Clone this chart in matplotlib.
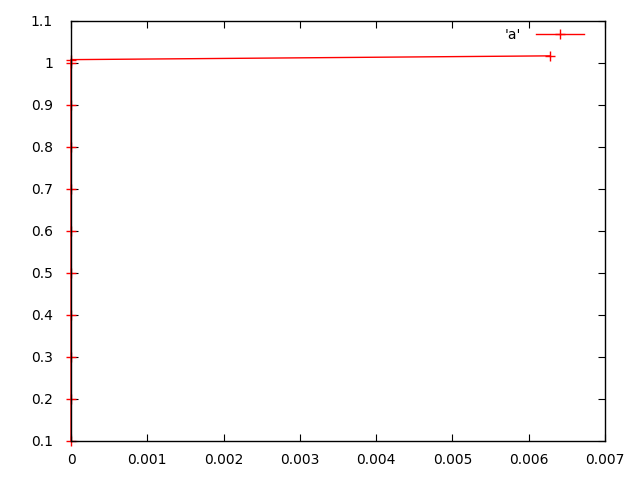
import matplotlib
matplotlib.use("Agg")
import matplotlib.pyplot as plt

# data
x_vals = [0, 0, 0, 0, 0, 0, 0, 0, 0, 0, 0, 0.00628]
y_vals = [0.1, 0.2, 0.3, 0.4, 0.5, 0.6, 0.7, 0.8, 0.9, 1.0, 1.008, 1.017]
series_name = "'a'"
x_ticks = [0, 0.001, 0.002, 0.003, 0.004, 0.005, 0.006, 0.007]
x_tick_labels = ["0", "0.001", "0.002", "0.003", "0.004", "0.005", "0.006", "0.007"]
y_ticks = [0.1, 0.2, 0.3, 0.4, 0.5, 0.6, 0.7, 0.8, 0.9, 1.0, 1.1]
y_tick_labels = ["0.1", "0.2", "0.3", "0.4", "0.5", "0.6", "0.7", "0.8", "0.9", "1", "1.1"]

plt.rcParams['font.family'] = ['DejaVu Sans']

fig = plt.figure(figsize=(6.4, 4.8), dpi=100)
ax = fig.add_axes([71 / 640, 1 - 441 / 480, (605 - 71) / 640, (441 - 21) / 480])

ax.plot(x_vals, y_vals, color='#ff0000', lw=1, marker='+', ms=7, mew=1,
        label=series_name, clip_on=False, zorder=3)

ax.set_xlim(0, 0.007)
ax.set_ylim(0.1, 1.1)
ax.set_xticks(x_ticks)
ax.set_xticklabels(x_tick_labels)
ax.set_yticks(y_ticks)
ax.set_yticklabels(y_tick_labels)
ax.tick_params(direction='in', length=5, width=0.8, top=True, right=True,
               labelsize=10)
ax.tick_params(axis='x', pad=9)
ax.tick_params(axis='y', pad=13)
# axis drawn over the line that runs up x=0
for s in ax.spines.values():
    s.set_linewidth(1.0)
    s.set_zorder(5)

ax.legend(loc='upper right', bbox_to_anchor=(0.961, 0.983), frameon=False,
          markerfirst=False, handlelength=3.45, fontsize=10, borderaxespad=0,
          borderpad=0, handletextpad=1.1)

fig.savefig("out.png", dpi=100)
